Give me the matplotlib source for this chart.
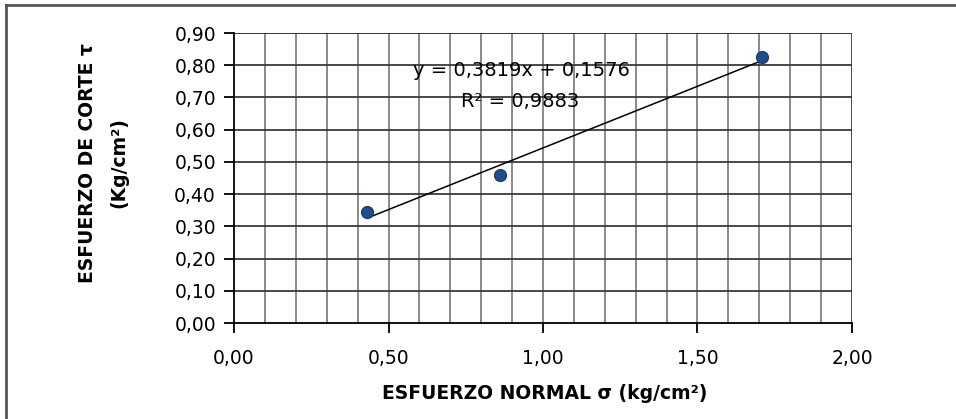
import numpy as np
import matplotlib
matplotlib.use('Agg')
import matplotlib.pyplot as plt
from matplotlib.lines import Line2D

# data
normal_stress = [0.43, 0.86, 1.71]
shear_stress = [0.345, 0.46, 0.825]
eq_text = 'y = 0,3819x + 0,1576'
r2_text = 'R² = 0,9883'

x_ticks = [0.0, 0.5, 1.0, 1.5, 2.0]
y_ticks = [i / 10 for i in range(10)]

plt.rcParams['font.family'] = ['DejaVu Sans']

fig = plt.figure(figsize=(9.56, 4.19), dpi=100)
ax = fig.add_axes([0.2448, 0.2291, 0.6464, 0.6921])

ax.set_xlim(0, 2.0)
ax.set_ylim(0, 0.9)

# grid: vertical minor every 0.1 grey, horizontal every 0.1 darker
for xv in np.arange(0.1, 2.0, 0.1):
    ax.axvline(xv, color='#808080', lw=1.3, zorder=1)
for yv in y_ticks[1:]:
    ax.axhline(yv, color='#3a3a3a', lw=1.3, zorder=1)
ax.axhline(0.9, color='#3a3a3a', lw=1.3, zorder=1)
ax.axvline(2.0, color='#3a3a3a', lw=1.3, zorder=1)

for s in ['top', 'right']:
    ax.spines[s].set_visible(False)
ax.spines['left'].set_color('black')
ax.spines['bottom'].set_color('black')
ax.spines['left'].set_linewidth(1.3)
ax.spines['bottom'].set_linewidth(1.3)

ax.set_xticks(x_ticks)
ax.set_xticklabels([('%.2f' % v).replace('.', ',') for v in x_ticks])
ax.set_yticks(y_ticks)
ax.set_yticklabels([('%.2f' % v).replace('.', ',') for v in y_ticks])
ax.tick_params(axis='both', direction='out', length=7, width=1.3, labelsize=13.5)
ax.tick_params(axis='x', pad=12)
ax.tick_params(axis='y', pad=6)

# trendline
coef = np.polyfit(normal_stress, shear_stress, 1)
xl = np.array([min(normal_stress), max(normal_stress)])
ax.plot(xl, np.polyval(coef, xl), color='black', lw=1.1, zorder=3)

ax.plot(normal_stress, shear_stress, 'o', color='#1f4e8f', markersize=8.5,
        markeredgecolor='#173d72', zorder=4)

ax.text(0.929, 0.785, eq_text, ha='center', va='center', fontsize=14, zorder=5)
ax.text(0.926, 0.686, r2_text, ha='center', va='center', fontsize=14, zorder=5)

fig.text(0.570, 0.062, 'ESFUERZO NORMAL σ (kg/cm²)', ha='center', va='center',
         fontsize=13.5, fontweight='bold')
fig.text(0.092, 0.611, 'ESFUERZO DE CORTE τ', ha='center', va='center',
         rotation=90, fontsize=13.5, fontweight='bold')
fig.text(0.124, 0.611, '(Kg/cm²)', ha='center', va='center',
         rotation=90, fontsize=13.5, fontweight='bold')

# outer frame (only top and left visible)
fig.add_artist(Line2D([0.006, 1.0], [0.988, 0.988], color='#555555', lw=2,
                      transform=fig.transFigure))
fig.add_artist(Line2D([0.006, 0.006], [0.0, 0.988], color='#555555', lw=2,
                      transform=fig.transFigure))

fig.savefig('out.png', dpi=100)
